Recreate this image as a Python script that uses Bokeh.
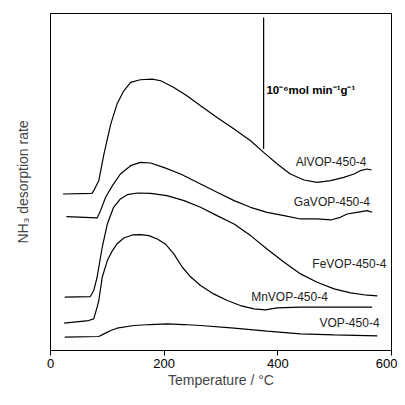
from bokeh.plotting import figure
from bokeh.models import Label, FixedTicker
from bokeh.embed import file_html
from bokeh.resources import INLINE

# Temperature (°C) and desorption signal (arbitrary units, offset stacked)
al_T = [22, 73, 76, 85, 94, 106, 117, 129, 141, 158, 179, 194, 217, 240, 264, 293, 323, 352, 375, 399, 422, 446, 469, 493, 516, 534, 545, 557, 565]
al_y = [470, 472, 480, 510, 590, 680, 740, 780, 805, 813, 815, 810, 790, 765, 735, 700, 665, 630, 595, 560, 530, 512, 505, 510, 520, 530, 540, 545, 542]

ga_T = [28, 82, 88, 97, 109, 123, 141, 158, 176, 199, 229, 264, 293, 323, 352, 381, 411, 440, 469, 493, 510, 522, 539, 557, 566]
ga_y = [402, 398, 420, 460, 495, 530, 555, 565, 563, 550, 530, 500, 475, 450, 430, 415, 405, 395, 395, 392, 400, 410, 415, 420, 415]

fe_T = [25, 70, 76, 82, 91, 100, 111, 123, 135, 153, 176, 205, 235, 264, 293, 323, 352, 381, 411, 440, 469, 499, 528, 557, 575]
fe_y = [160, 162, 180, 220, 310, 380, 430, 455, 468, 473, 472, 465, 450, 430, 405, 380, 345, 305, 265, 230, 205, 185, 173, 166, 164]

mn_T = [24, 67, 76, 82, 85, 91, 100, 109, 117, 129, 144, 158, 173, 188, 202, 217, 232, 246, 264, 287, 311, 334, 358, 378, 399, 440, 499, 566]
mn_y = [82, 90, 95, 130, 150, 220, 270, 300, 320, 338, 347, 348, 345, 335, 320, 290, 250, 222, 195, 170, 150, 135, 125, 122, 128, 130, 130, 130]

v_T = [25, 85, 94, 106, 117, 147, 176, 205, 235, 264, 323, 381, 440, 499, 575]
v_y = [40, 42, 50, 60, 67, 75, 78, 80, 78, 75, 67, 58, 50, 47, 44]

labels = ["AlVOP-450-4", "GaVOP-450-4", "FeVOP-450-4", "MnVOP-450-4", "VOP-450-4"]
label_x = [556, 562, 591, 488, 579]
label_y = [566, 446, 260, 162, 82]

scale_T = [375, 375]
scale_y = [605, 1000]
scale_label = "10⁻⁶mol min⁻¹g⁻¹"

x_ticks = [0, 200, 400, 600]

FONT = "Liberation Sans"

p = figure(width=397, height=397, x_range=(0, 600), y_range=(0, 1012),
           output_backend="svg", toolbar_location=None,
           min_border_left=50, min_border_right=6, min_border_top=13, min_border_bottom=47)
p.grid.visible = False
p.outline_line_color = "black"
p.outline_line_width = 1
p.background_fill_color = "white"

for T, y in [(al_T, al_y), (ga_T, ga_y), (fe_T, fe_y), (mn_T, mn_y), (v_T, v_y)]:
    p.line(T, y, line_color="black", line_width=1.2)

for t, x, y in zip(labels, label_x, label_y):
    p.add_layout(Label(x=x, y=y, text=t, text_align="right", text_baseline="middle",
                       text_font=FONT, text_font_size="12px", text_color="#222222"))

# scale bar
p.line(scale_T, scale_y, line_color="black", line_width=1.2)
p.add_layout(Label(x=380, y=783, text=scale_label, text_align="left", text_baseline="middle",
                   text_font=FONT, text_font_size="11.5px", text_font_style="bold", text_color="black"))

p.xaxis.ticker = FixedTicker(ticks=x_ticks)
p.xaxis.minor_tick_line_color = None
p.xaxis.major_tick_in = 0
p.xaxis.major_tick_out = 5
p.xaxis.major_label_text_font = FONT
p.xaxis.major_label_text_font_size = "13px"
p.xaxis.major_label_text_color = "black"
p.xaxis.major_label_standoff = 3
p.xaxis.axis_label = "Temperature / °C"
p.xaxis.axis_label_text_font = FONT
p.xaxis.axis_label_text_font_size = "14px"
p.xaxis.axis_label_text_font_style = "normal"
p.xaxis.axis_label_standoff = 1

p.yaxis.ticker = FixedTicker(ticks=[])
p.yaxis.minor_tick_line_color = None
p.yaxis.major_label_text_font_size = "0px"
p.yaxis.axis_label = "NH₃ desorption rate"
p.yaxis.axis_label_text_font = FONT
p.yaxis.axis_label_text_font_size = "14px"
p.yaxis.axis_label_text_font_style = "normal"
p.yaxis.axis_label_standoff = 20

open("out.html", "w").write(file_html(p, INLINE))
